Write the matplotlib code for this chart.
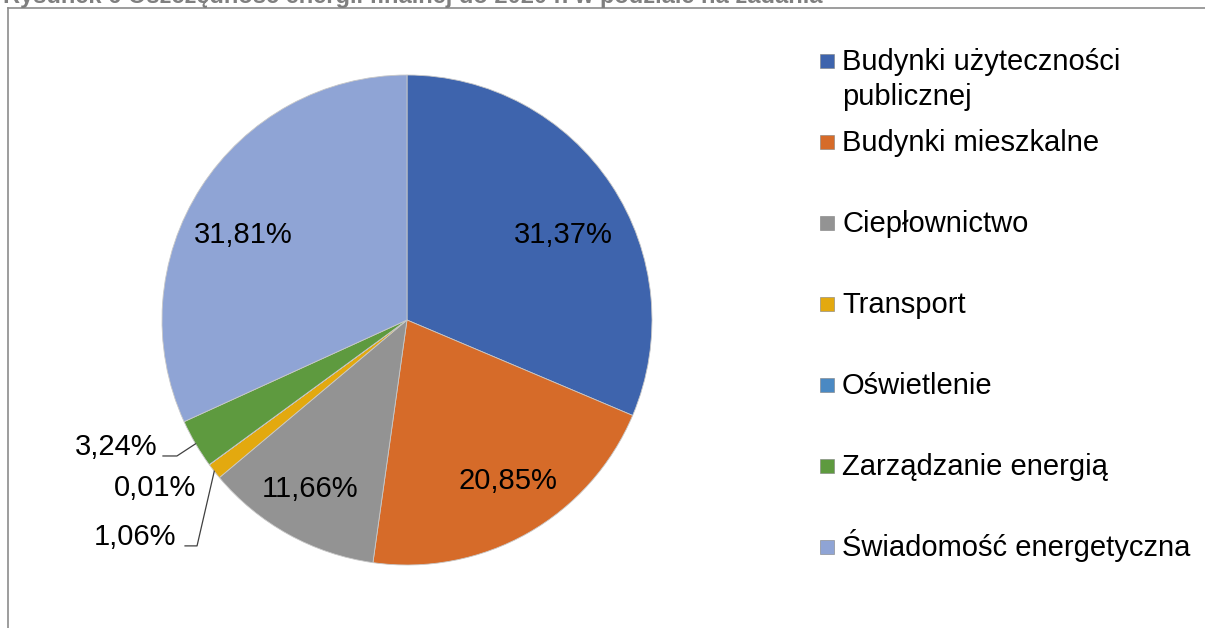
import numpy as np
import matplotlib
matplotlib.use("Agg")
import matplotlib.pyplot as plt
from matplotlib.patches import Rectangle

plt.rcParams['font.family'] = ['Liberation Sans', 'DejaVu Sans']

# data
categories = ['Budynki użyteczności\npublicznej', 'Budynki mieszkalne', 'Ciepłownictwo',
              'Transport', 'Oświetlenie', 'Zarządzanie energią', 'Świadomość energetyczna']
shares = [31.37, 20.85, 11.66, 1.06, 0.01, 3.24, 31.81]
colors = ['#3E64AD', '#D66B29', '#939393', '#E3A90F', '#4A89C3', '#5E9A3F', '#8FA4D5']
title = 'Rysunek 6 Oszczędność energii finalnej do 2020 r. w podziale na zadania'

W, H = 1205, 628
fig = plt.figure(figsize=(W / 100, H / 100), dpi=100)

# caption (cut off at the top in the source) and grey frame
fig.text(3 / W, 1 - 3 / H, title, fontsize=17, fontweight='bold', color='#7f7f7f',
         ha='left', va='baseline')
fig.add_artist(plt.Line2D([8 / W, 8 / W], [0, 1 - 8 / H], color='#8c8c8c', lw=1.2))
fig.add_artist(plt.Line2D([8 / W, 1], [1 - 8 / H, 1 - 8 / H], color='#8c8c8c', lw=1.2))

# pie axes: center (407, 320) px, radius 245 px
cx, cy, r = 407, 320, 245
ax = fig.add_axes([(cx - r) / W, (H - cy - r) / H, 2 * r / W, 2 * r / H])
wedges, _ = ax.pie(shares, colors=colors, startangle=90, counterclock=False,
                   wedgeprops=dict(edgecolor='#c8c8c8', linewidth=0.6))
ax.set_xlim(-1, 1)
ax.set_ylim(-1, 1)
ax.set_aspect('equal')
ax.axis('off')

def fmt(v):
    return f'{v:.2f}'.replace('.', ',') + '%'

mids = [np.deg2rad((w.theta1 + w.theta2) / 2) for w in wedges]

# inside labels: (distance, angle shift in degrees)
inside = {0: (0.725, -4.9), 1: (0.776, 2.5), 2: (0.795, -0.9), 6: (0.752, 5.2)}
for i, (d, sh) in inside.items():
    a = mids[i] + np.deg2rad(sh)
    ax.text(d * np.cos(a), d * np.sin(a), fmt(shares[i]), ha='center', va='center',
            fontsize=21, color='black')

# outside labels with leaders: text anchor (right edge) and knee points
outside = {5: ((-1.02, -0.52), [(-0.996, -0.555), (-0.939, -0.555)]),
           4: ((-0.86, -0.686), None),
           3: ((-0.94, -0.886), [(-0.906, -0.922), (-0.857, -0.922)])}
for i, (pos, knee) in outside.items():
    ax.text(pos[0], pos[1], fmt(shares[i]), ha='right', va='center', fontsize=21,
            color='black')
    if knee is not None:
        ex, ey = np.cos(mids[i]), np.sin(mids[i])
        xs = [knee[0][0], knee[1][0], ex]
        ys = [knee[0][1], knee[1][1], ey]
        ax.plot(xs, ys, color='#404040', lw=0.9, clip_on=False)

# legend drawn manually to mimic the spacing
lx, ly0, step, line_h = 820, 61, 81, 35
for i, (lab, col) in enumerate(zip(categories, colors)):
    y = ly0 + step * i
    fig.add_artist(Rectangle((lx / W, (H - y - 7) / H), 14 / W, 14 / H,
                             facecolor=col, edgecolor='#7f7f7f', lw=0.4,
                             transform=fig.transFigure))
    for k, part in enumerate(lab.split('\n')):
        fig.text((lx + 22) / W, (H - y - 9 - line_h * k) / H, part, fontsize=21,
                 ha='left', va='baseline', color='black')

fig.savefig('out.png', dpi=100, facecolor='white')
